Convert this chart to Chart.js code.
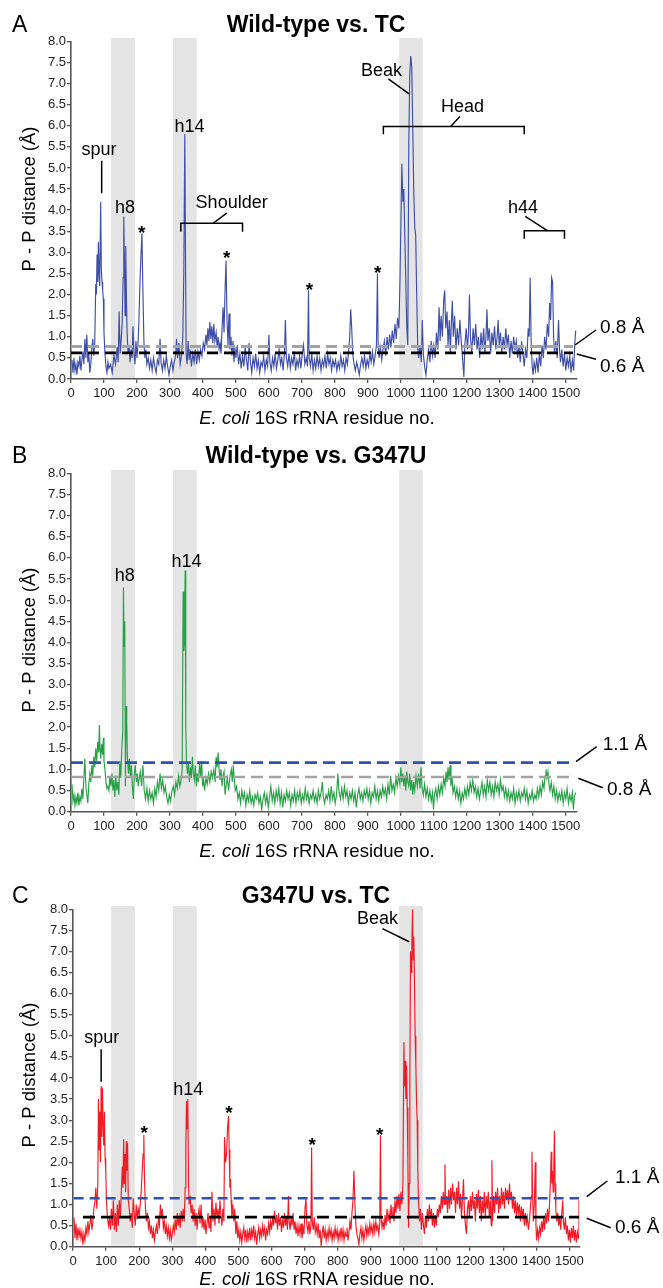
<!DOCTYPE html>
<html>
<head>
<meta charset="utf-8">
<script src="https://cdn.jsdelivr.net/npm/chart.js@4.4.1/dist/chart.umd.min.js"></script>
<style>
  html, body { margin: 0; padding: 0; background: #fff; }
  #page { position: relative; width: 663px; height: 1288px; overflow: hidden; }
  .panel { position: absolute; left: 0; width: 663px; }
</style>
</head>
<body>
<div id="page">
  <div class="panel" style="top:0;height:440px"><canvas id="chartA"></canvas></div>
  <div class="panel" style="top:420px;height:445px"><canvas id="chartB"></canvas></div>
  <div class="panel" style="top:850px;height:438px"><canvas id="chartC"></canvas></div>
</div>
<script>
// Tick values
const yTicksStep = 0.5;
const xTicksStep = 100;
const lastResidueTick = 1500;

// Shaded regions (residue ranges)
const bandsAB = [[121, 194], [309, 381], [995, 1066]];
const bandsC = [[115, 187], [302, 374], [985, 1057]];

// P - P distance per residue: [residue, distance in Å]
const wtVsTc = [
  [3,0.45],[6,0.15],[9,0.5],[12,0.2],[15,0.35],[18,0.1],[21,0.4],[24,0.3],[27,0.55],[30,0.2],[33,0.45],[36,0.65],[39,0.35],[42,0.95],[45,0.5],[48,1.05],[51,0.4],[54,0.6],[57,0.15],[60,0.35],[63,0.7],[66,0.95],[69,0.55],[72,0.85],[75,2.25],[77,2.0],[79,2.95],[81,2.3],[83,3.25],[85,2.5],[87,2.2],[90,4.2],[92,2.6],[94,2.3],[96,2.1],[98,1.9],[100,1.1],[103,0.6],[106,0.3],[109,0.15],[112,0.4],
  [115,0.25],[120,0.35],[125,0.15],[130,0.55],[135,0.35],[140,0.75],[143,0.4],[146,1.6],[149,0.6],[152,0.9],[155,1.3],[158,2.4],[160,3.85],[162,2.8],[164,1.5],[166,3.15],[168,2.0],[170,1.1],[173,0.6],[176,0.8],[179,0.4],[182,0.7],[185,0.5],[188,1.25],[191,0.6],[194,0.35],[197,0.9],[200,0.5],[203,0.8],[206,1.4],[209,2.3],[212,2.9],[215,3.45],[218,2.1],[221,0.9],[224,0.5],[227,0.7],[230,0.35],[234,0.5],[238,0.25],[242,0.45],[246,0.2],[250,0.5],[254,0.3],[258,0.15],[262,0.45],[266,0.35],[270,0.95],[273,0.4],[277,0.2],[281,0.45],[285,0.25],[289,0.55],[293,0.3],[297,0.1],[301,0.3],[305,0.45],[309,0.2],[313,0.4],[317,0.55],[320,0.95],[323,0.5],[327,0.85],[331,0.35],[335,0.55],[339,1.0],[342,2.5],[345,5.8],[347,3.2],[349,0.6],[352,0.35],[355,0.9],[358,0.45],[361,0.7],[365,0.3],[369,0.6],[373,0.4],[377,0.7],[381,0.35],[385,0.65],[389,0.45],[393,0.7],[397,0.55],[401,0.85],[405,0.7],[409,1.05],[412,0.8],[415,1.2],[418,0.9],[421,1.35],[424,0.95],[427,1.25],[430,0.85],[433,1.3],[436,0.9],[440,1.1],[443,0.75],[446,1.0],[449,0.7],[452,0.85],[455,0.6],[458,1.2],[461,1.7],[464,1.1],[467,2.1],[470,2.8],[473,1.4],[476,0.8],[479,1.55],[482,0.7],[485,1.0],[488,0.55],[491,0.9],[494,0.4],[497,0.75],[500,0.5],
  [504,0.8],[508,0.35],[512,0.6],[516,0.25],[520,0.55],[524,0.3],[528,0.75],[532,0.45],[536,0.2],[540,0.85],[544,0.4],[548,0.15],[552,0.5],[556,0.3],[560,0.6],[564,0.25],[568,0.45],[572,0.15],[576,0.4],[580,0.3],[584,0.55],[588,0.2],[592,0.45],[596,0.3],[600,1.05],[603,0.4],[607,0.2],[611,0.5],[615,0.3],[619,0.6],[623,0.25],[627,0.45],[631,0.7],[635,0.35],[639,0.5],[643,0.2],[647,0.6],[650,1.4],[653,0.5],[657,0.3],[661,0.6],[665,0.25],[669,0.5],[673,0.35],[677,0.65],[681,0.2],[685,0.45],[689,0.3],[693,0.55],[697,0.25],[701,0.6],[705,0.8],[709,0.35],[713,0.5],[717,0.3],[720,2.1],[722,0.5],[726,0.3],[730,0.6],[734,0.2],[738,0.45],[742,0.25],[746,0.55],[750,0.3],[754,0.5],[758,0.2],[762,0.45],[766,0.3],[770,0.55],[774,0.25],[778,0.6],[782,0.35],[786,0.5],[790,0.2],[794,0.45],[798,0.3],
  [802,0.45],[806,0.2],[810,0.4],[814,0.25],[818,0.55],[822,0.3],[826,0.45],[830,0.2],[834,0.5],[838,0.35],[842,0.7],[845,1.0],[848,1.65],[851,1.2],[854,0.6],[858,0.35],[862,0.2],[866,0.4],[870,0.25],[874,0.1],[878,0.35],[882,0.5],[886,0.3],[890,0.55],[894,0.25],[898,0.45],[902,0.3],[906,0.6],[910,0.4],[914,0.65],[918,0.35],[922,0.55],[926,0.8],[929,2.5],[931,0.9],[934,0.5],[938,0.75],[942,0.45],[946,0.7],[950,0.9],[954,0.55],[958,1.0],[962,0.7],[966,1.05],[970,0.75],[974,1.15],[978,0.85],[982,1.3],[986,0.95],[990,1.45],[994,1.2],[997,2.2],[1000,3.6],[1003,5.1],[1006,4.2],[1009,4.5],[1012,3.4],[1015,2.3],[1018,1.2],[1021,0.8],[1024,5.5],[1027,7.2],[1030,7.65],[1033,7.4],[1036,6.0],[1039,4.5],[1042,3.6],[1045,3.4],[1048,2.0],[1051,0.8],[1054,0.5],[1058,0.8],[1062,0.4],[1065,1.4],[1068,0.6],[1072,0.3],[1076,0.1],[1080,0.45],[1084,0.7],[1088,0.4],[1092,0.9],[1096,0.55],[1100,0.8],
  [1104,0.5],[1108,1.1],[1112,0.7],[1116,1.7],[1119,0.9],[1122,1.5],[1126,1.0],[1130,1.9],[1133,2.1],[1136,1.2],[1140,1.6],[1143,0.8],[1147,1.4],[1150,0.6],[1153,1.3],[1156,1.85],[1159,1.0],[1163,1.5],[1167,0.7],[1171,1.2],[1175,0.8],[1179,1.4],[1183,0.9],[1187,0.5],[1191,0.05],[1194,0.8],[1198,1.2],[1202,0.7],[1205,1.1],[1208,2.0],[1211,1.0],[1215,0.6],[1219,1.2],[1223,0.8],[1227,1.3],[1231,0.7],[1235,1.0],[1239,0.5],[1243,1.1],[1247,0.7],[1251,1.2],[1255,0.6],[1258,1.0],[1261,1.65],[1264,0.9],[1268,1.2],[1272,0.6],[1276,1.1],[1280,0.8],[1284,1.25],[1288,0.7],[1292,1.0],[1295,1.4],[1298,0.8],[1302,1.1],[1306,0.6],[1310,1.0],[1314,0.7],[1318,1.2],[1322,0.8],[1326,1.05],[1330,0.5],[1334,0.9],[1338,0.6],[1342,1.0],[1346,0.7],[1350,0.9],[1354,0.5],[1358,0.8],[1362,0.4],[1366,0.9],[1370,0.6],[1374,0.3],[1378,0.7],[1382,0.5],[1386,1.2],[1389,1.0],[1392,2.4],[1395,0.9],[1398,0.3],[1401,0.1],[1404,0.4],[1408,0.2],[1412,0.5],[1416,0.15],[1420,0.6],[1424,0.3],[1428,0.8],[1432,0.5],[1436,1.0],[1440,0.7],[1444,1.3],[1448,1.0],[1451,1.8],[1454,1.4],[1457,2.4],[1460,2.3],[1463,1.0],[1466,0.6],[1470,0.9],[1474,0.5],[1478,1.4],[1481,0.7],[1484,0.4],[1488,0.7],[1492,0.3],[1496,0.6],[1500,0.2],[1504,0.5],[1508,0.3],[1512,0.55],[1516,0.15],[1520,0.45],[1524,0.2],[1527,0.8],[1530,1.15]
];

const wtVsG347U = [
  [3,0.65],[6,0.25],[9,0.4],[12,0.15],[15,0.35],[18,0.2],[21,0.45],[24,0.15],[27,0.35],[30,0.25],[33,0.55],[36,0.3],[39,0.8],[42,1.25],[45,0.6],[48,0.4],[51,0.2],[54,0.65],[57,0.9],[60,0.7],[63,1.1],[66,0.85],[69,1.3],[72,1.05],[75,1.5],[78,1.2],[81,1.65],[84,1.4],[86,2.05],[88,1.5],[90,1.25],[93,1.6],[96,1.35],[98,1.75],[100,1.2],[103,1.0],[106,0.7],[109,0.55],[112,0.6],[115,0.5],[118,0.85],[121,0.6],[124,0.9],[127,0.5],[130,0.75],[133,0.35],[136,0.85],[139,0.5],[142,0.7],[145,0.4],[148,1.2],[151,0.8],[154,1.5],[157,1.9],[159,5.3],[161,3.9],[163,4.5],[165,0.6],[167,2.5],[169,2.1],[171,1.3],[174,0.9],[177,1.25],[180,0.8],[183,1.1],[186,0.6],[189,0.3],[192,0.9],[195,1.1],[198,0.7],
  [201,0.9],[204,0.6],[207,0.8],[210,0.95],[214,0.6],[218,1.1],[222,0.5],[226,0.3],[230,0.55],[234,0.25],[238,0.5],[242,0.3],[246,0.45],[250,0.2],[254,0.55],[258,0.35],[262,0.7],[266,0.5],[270,0.9],[274,0.55],[278,0.75],[282,0.45],[286,0.6],[290,0.35],[294,0.2],[298,0.4],[302,0.25],[306,0.5],[310,0.6],[314,0.4],[318,0.7],[322,0.55],[326,0.85],[330,0.6],[334,0.75],[337,1.0],[340,5.2],[342,3.8],[344,4.0],[346,5.7],[348,2.0],[350,1.2],[353,0.9],[356,1.15],[359,0.7],[362,1.05],[365,0.8],[368,1.3],[371,0.9],[374,0.75],[377,1.1],[380,0.6],[383,0.9],[386,0.7],[390,1.15],[393,0.8],[396,1.2],[399,0.6],
  [402,0.75],[405,0.5],[409,0.8],[413,0.65],[417,0.9],[421,0.7],[425,0.95],[429,0.8],[433,1.0],[437,0.7],[440,1.3],[443,1.05],[446,1.4],[449,1.0],[452,0.75],[455,1.0],[458,0.6],[461,0.85],[464,0.95],[467,0.4],[470,0.6],[474,0.8],[478,0.5],[482,0.85],[486,1.0],[489,0.7],[492,1.1],[495,0.8],[498,0.5],[502,0.6],[506,0.3],[510,0.45],[514,0.2],[518,0.5],[522,0.3],[526,0.45],[530,0.15],[534,0.4],[538,0.25],[542,0.5],[546,0.2],[550,0.35],[554,0.15],[558,0.4],[562,0.3],[566,0.45],[570,0.2],[574,0.35],[578,0.05],[582,0.3],[586,0.45],[590,0.2],[594,0.4],[598,0.1],
  [602,0.35],[606,0.6],[610,0.25],[614,0.45],[618,0.2],[622,0.5],[626,0.3],[630,0.55],[634,0.2],[638,0.45],[642,0.1],[646,0.4],[650,0.25],[654,0.5],[658,0.3],[662,0.45],[666,0.15],[670,0.4],[674,0.25],[678,0.5],[682,0.2],[686,0.45],[690,0.3],[694,0.5],[698,0.2],[702,0.4],[706,0.25],[710,0.55],[714,0.3],[718,0.45],[722,0.2],[726,0.4],[730,0.3],[734,0.5],[738,0.25],[742,0.4],[746,0.2],[750,0.5],[754,0.3],[758,0.45],[762,0.7],[765,0.35],[769,0.2],[773,0.4],[777,0.3],[781,0.5],[785,0.25],[789,0.6],[793,0.3],[797,0.45],
  [801,0.2],[805,0.4],[809,0.9],[813,0.45],[817,0.3],[821,0.55],[825,0.3],[829,0.6],[833,0.35],[837,0.5],[841,0.2],[845,0.45],[849,0.3],[853,0.5],[857,0.25],[861,0.45],[865,0.1],[869,0.4],[873,0.55],[877,0.3],[881,0.45],[885,0.25],[889,0.5],[893,0.35],[897,0.55],[901,0.3],[905,0.5],[909,0.2],[913,0.45],[917,0.35],[921,0.6],[925,0.3],[929,0.5],[933,0.25],[937,0.5],[941,0.35],[945,0.6],[949,0.4],[953,0.55],[957,0.3],[961,0.65],[965,0.4],[969,0.85],[973,0.5],[977,0.65],[981,0.45],[985,0.8],[989,0.6],[993,0.85],[997,0.65],
  [1000,1.05],[1003,0.7],[1006,0.9],[1009,0.6],[1012,0.85],[1015,0.5],[1018,0.95],[1021,0.7],[1024,0.6],[1027,0.9],[1030,0.5],[1033,0.75],[1036,0.4],[1039,0.7],[1042,0.5],[1046,0.85],[1050,0.6],[1054,0.9],[1058,0.55],[1061,1.05],[1064,0.6],[1068,0.4],[1072,0.65],[1076,0.35],[1080,0.55],[1084,0.3],[1088,0.5],[1092,0.25],[1096,0.45],[1099,0.05],[1102,0.4],[1106,0.55],[1110,0.3],[1114,0.6],[1118,0.4],[1122,0.65],[1126,0.45],[1130,0.8],[1134,0.6],[1137,0.95],[1140,0.7],[1143,1.05],[1146,0.75],[1149,1.1],[1152,0.6],[1155,0.85],[1158,0.45],[1162,0.6],[1166,0.35],[1170,0.55],[1174,0.3],[1178,0.5],[1182,0.2],[1186,0.45],[1190,0.3],[1194,0.55],[1198,0.35],
  [1202,0.6],[1206,0.4],[1210,0.7],[1214,0.5],[1218,0.75],[1222,0.45],[1226,0.6],[1230,0.35],[1234,0.55],[1238,0.3],[1242,0.5],[1246,0.7],[1250,0.4],[1254,0.6],[1258,0.35],[1262,0.75],[1266,0.5],[1270,0.7],[1274,0.4],[1278,0.6],[1282,0.35],[1286,0.7],[1290,0.5],[1294,0.65],[1298,0.4],[1302,0.75],[1306,0.5],[1310,0.6],[1314,0.35],[1318,0.55],[1322,0.3],[1326,0.5],[1330,0.25],[1334,0.45],[1338,0.3],[1342,0.55],[1346,0.2],[1350,0.45],[1354,0.3],[1358,0.5],[1362,0.25],[1366,0.45],[1370,0.35],[1374,0.55],[1378,0.3],[1382,0.5],[1386,0.2],[1390,0.4],[1394,0.3],[1398,0.5],
  [1402,0.25],[1406,0.4],[1410,0.3],[1414,0.55],[1418,0.35],[1422,0.6],[1426,0.4],[1430,0.7],[1434,0.55],[1437,0.85],[1440,1.0],[1443,0.8],[1446,0.95],[1449,0.65],[1452,0.5],[1456,0.7],[1460,0.4],[1464,0.6],[1468,0.3],[1472,0.5],[1476,0.25],[1480,0.45],[1484,0.3],[1488,0.5],[1492,0.2],[1496,0.45],[1500,0.3],[1504,0.55],[1508,0.2],[1512,0.4],[1516,0.25],[1520,0.45],[1523,0.05],[1526,0.35],[1530,0.45]
];

const g347uVsTc = [
  [3,0.7],[6,0.2],[9,0.55],[12,0.15],[15,0.45],[18,0.25],[21,0.4],[24,0.2],[27,0.35],[30,0.05],[33,0.3],[36,0.15],[39,0.45],[42,0.3],[45,0.6],[48,0.35],[51,0.55],[54,0.75],[57,0.4],[60,0.6],[63,0.9],[66,1.05],[69,1.4],[72,0.9],[75,1.5],[77,3.5],[79,2.3],[81,3.2],[83,2.0],[85,3.8],[87,2.6],[89,3.75],[91,2.9],[93,2.4],[95,3.2],[97,2.1],[99,1.8],[101,1.1],[104,0.7],[107,0.5],[110,0.65],[113,0.4],[116,0.9],[119,0.5],[122,1.1],[125,0.4],[128,0.8],[131,0.35],[134,1.0],[137,0.5],[140,1.1],[143,0.7],[146,1.3],[149,1.9],[151,1.4],[153,2.55],[155,1.5],[157,2.2],[159,1.3],[161,2.5],[163,1.8],[165,2.45],[167,1.1],[170,0.9],[173,0.6],[176,0.8],[179,0.45],[182,1.15],[185,0.8],[188,0.5],[191,1.0],[194,0.65],[197,0.9],
  [200,0.75],[203,1.0],[206,1.3],[209,1.8],[212,2.2],[214,2.65],[216,1.6],[219,0.9],[222,0.6],[225,0.8],[228,0.45],[231,0.6],[234,0.3],[237,0.5],[240,0.2],[243,0.4],[246,0.15],[249,0.35],[252,0.5],[255,0.3],[258,0.65],[261,0.5],[264,1.0],[267,0.7],[270,0.9],[273,0.45],[276,0.6],[279,0.3],[282,0.5],[285,0.25],[288,0.45],[291,0.2],[294,0.4],[297,0.15],[300,0.3],[303,0.5],[306,0.35],[309,0.65],[312,0.4],[315,0.8],[318,0.5],[321,0.7],[324,0.45],[327,0.85],[330,0.6],[333,0.9],[336,0.6],[339,1.4],[341,2.4],[343,3.45],[345,2.8],[347,3.5],[349,1.5],[351,1.0],[354,1.2],[357,0.8],[360,1.0],[363,0.6],[366,0.9],[369,0.5],[372,0.8],[375,0.4],[378,0.75],[381,0.9],[384,0.55],[387,1.0],[390,0.45],[393,0.7],[396,0.4],[399,0.65],
  [402,0.3],[405,0.55],[408,0.8],[411,0.45],[414,0.7],[417,0.35],[420,1.3],[423,0.6],[426,0.9],[429,0.5],[432,1.05],[435,0.7],[438,0.9],[441,0.55],[444,1.1],[447,0.75],[450,0.5],[453,0.9],[456,0.6],[458,2.6],[461,2.0],[464,2.2],[467,2.8],[470,3.1],[472,2.3],[474,1.4],[476,1.6],[478,1.1],[480,0.7],[483,1.0],[486,0.6],[489,0.9],[492,0.3],[495,0.6],[498,0.2],[501,0.4],[504,0.15],[507,0.35],[510,0.1],[513,0.3],[516,0.45],[519,0.2],[522,0.4],[525,0.1],[528,0.35],[531,0.2],[534,0.45],[537,0.15],[540,0.4],[543,0.25],[546,0.5],[549,0.2],[552,0.35],[555,0.05],[558,0.3],[561,0.45],[564,0.2],[567,0.4],[570,0.25],[573,0.5],[576,0.3],[579,0.45],[582,0.15],[585,0.4],[588,0.3],[591,0.55],[594,0.35],[597,0.6],
  [600,0.4],[603,0.7],[606,0.5],[609,0.85],[612,0.55],[615,0.75],[618,0.4],[621,0.8],[624,0.5],[627,0.7],[630,0.35],[633,0.65],[636,0.45],[639,0.8],[642,0.5],[645,0.7],[648,0.4],[651,1.2],[653,0.6],[656,0.4],[659,0.7],[662,0.5],[665,0.8],[668,0.4],[671,0.6],[674,0.3],[677,0.5],[680,0.25],[683,0.5],[686,0.3],[689,0.55],[692,0.2],[695,0.45],[698,0.3],[701,0.9],[704,1.15],[707,0.5],[710,0.35],[713,0.6],[716,0.3],[719,0.5],[721,2.35],[723,0.6],[726,0.4],[729,0.7],[732,0.35],[735,0.5],[738,0.3],[741,0.55],[744,0.2],[747,0.4],[750,0.0],[753,0.3],[756,0.5],[759,0.2],[762,0.4],[765,0.15],[768,0.35],[771,0.2],[774,0.45],[777,0.25],[780,0.4],[783,0.15],[786,0.35],[789,0.2],[792,0.45],[795,0.25],[798,0.4],
  [801,0.15],[804,0.35],[807,0.2],[810,0.45],[813,0.2],[816,0.4],[819,0.15],[822,0.35],[825,0.25],[828,0.45],[831,0.15],[834,0.35],[837,0.6],[840,0.4],[843,0.8],[846,1.1],[849,1.8],[852,1.0],[855,0.5],[858,0.3],[861,0.2],[864,0.05],[867,0.3],[870,0.45],[873,0.2],[876,0.4],[879,0.15],[882,0.35],[885,0.5],[888,0.25],[891,0.45],[894,0.3],[897,0.55],[900,0.35],[903,0.5],[906,0.3],[909,0.55],[912,0.35],[915,0.6],[918,0.4],[921,0.5],[924,0.3],[927,0.55],[929,2.65],[931,0.7],[934,0.45],[937,0.6],[940,0.4],[943,0.75],[946,0.5],[949,0.9],[952,0.6],[955,0.8],[958,0.55],[961,1.0],[964,0.7],[967,0.95],[970,0.6],[973,1.1],[976,0.8],[979,1.2],[982,0.9],[985,1.25],[988,0.85],[991,1.3],[994,1.0],[997,1.5],
  [1000,4.85],[1002,3.8],[1004,4.4],[1006,3.5],[1008,4.3],[1010,3.3],[1012,2.0],[1014,0.45],[1016,1.5],[1018,4.0],[1020,7.0],[1022,6.5],[1024,7.2],[1026,8.0],[1028,6.8],[1030,7.35],[1032,6.2],[1034,5.0],[1036,4.3],[1038,3.5],[1040,3.0],[1042,1.8],[1044,1.1],[1047,0.6],[1050,0.9],[1053,0.4],[1056,0.8],[1059,0.5],[1062,0.3],[1065,0.7],[1068,0.45],[1071,0.9],[1074,0.6],[1077,1.0],[1080,0.65],[1083,0.9],[1086,0.5],[1089,0.8],[1092,0.45],[1095,0.75],[1098,0.5],
  [1101,0.9],[1104,0.7],[1107,1.0],[1110,0.8],[1113,1.2],[1116,0.9],[1119,1.3],[1122,1.0],[1124,1.95],[1126,1.0],[1129,1.2],[1132,0.8],[1135,1.35],[1138,0.9],[1141,1.4],[1144,1.0],[1147,1.5],[1150,1.1],[1153,1.3],[1156,0.8],[1159,1.4],[1162,1.0],[1165,1.55],[1168,0.9],[1171,1.25],[1174,0.7],[1177,1.1],[1180,1.6],[1183,0.8],[1186,0.5],[1189,0.3],[1192,0.9],[1195,1.1],[1198,0.7],
  [1201,1.2],[1204,0.85],[1207,1.3],[1210,0.9],[1213,1.1],[1216,0.6],[1219,1.25],[1222,0.9],[1225,1.35],[1228,0.8],[1231,1.2],[1234,0.6],[1237,1.1],[1240,0.8],[1243,1.3],[1246,0.7],[1249,1.2],[1252,0.9],[1255,1.3],[1258,0.7],[1261,1.1],[1264,0.5],[1266,2.05],[1268,0.6],[1271,1.2],[1274,0.8],[1277,1.3],[1280,1.0],[1283,1.4],[1286,0.8],[1289,1.2],[1292,0.9],[1295,1.4],[1298,1.0],
  [1301,1.3],[1304,0.9],[1307,1.4],[1310,1.1],[1313,1.35],[1316,1.0],[1319,1.5],[1322,1.1],[1325,1.3],[1328,0.9],[1331,1.2],[1334,0.8],[1337,1.1],[1340,0.7],[1343,1.05],[1346,0.8],[1349,1.0],[1352,0.6],[1355,0.95],[1358,0.7],[1361,0.9],[1364,0.5],[1367,0.8],[1370,0.55],[1373,0.7],[1376,0.4],[1379,0.6],[1382,0.9],[1385,1.2],[1387,2.25],[1389,1.2],[1391,0.6],[1394,1.0],[1397,2.0],[1399,0.5],
  [1401,0.15],[1404,0.4],[1407,0.2],[1410,0.45],[1413,0.3],[1416,0.6],[1419,0.35],[1422,0.7],[1425,0.4],[1428,0.8],[1431,0.55],[1434,0.9],[1437,0.6],[1440,1.0],[1443,1.6],[1445,2.25],[1447,1.5],[1449,1.8],[1451,1.3],[1453,2.0],[1455,2.75],[1457,1.5],[1459,0.9],[1462,0.6],[1465,0.8],[1468,0.5],[1471,0.7],[1474,0.4],[1477,0.8],[1480,1.1],[1482,0.6],[1485,0.4],[1488,0.7],[1491,0.3],[1494,0.5],[1497,0.15],[1500,0.4],[1503,0.1],[1506,0.45],[1509,0.2],[1512,0.5],[1515,0.15],[1518,0.4],[1521,0.1],[1524,0.35],[1527,0.2],[1529,1.1]
];

// Threshold lines: [value, from residue, to residue]
const thresholdsA = { gray: [0.77, 0, 1522], black: [0.62, 0, 1522] };
const thresholdsB = { blue: [1.16, 0, 1522], gray: [0.82, 0, 1522] };
const thresholdsC = { blue: [1.15, 2, 1530], black: [0.70, 30, 1530] };

const FONT = "'Liberation Sans', Arial, Helvetica, sans-serif";
const BAND_TOP = 8.08;
const X_AXIS_H = 30;

function refLine(t, color, dash, width) {
  return {
    data: [{ x: t[1], y: t[0] }, { x: t[2], y: t[0] }],
    borderColor: color,
    borderWidth: width,
    borderDash: dash,
    pointRadius: 0,
    fill: false
  };
}

function makePanel(cfg) {
  const decor = {
    id: 'decor',
    beforeDraw(chart) {
      const { ctx } = chart;
      const xs = chart.scales.x, ys = chart.scales.y;
      ctx.save();
      ctx.fillStyle = '#e4e4e4';
      cfg.bands.forEach(([a, b]) => {
        const x1 = xs.getPixelForValue(a), x2 = xs.getPixelForValue(b);
        const yTop = ys.getPixelForValue(BAND_TOP), yBot = ys.getPixelForValue(0) - 1;
        ctx.fillRect(x1, yTop, x2 - x1, yBot - yTop);
      });
      ctx.restore();
    },
    afterDraw(chart) {
      const { ctx } = chart;
      const xs = chart.scales.x, ys = chart.scales.y;
      const px = r => xs.getPixelForValue(r);
      const py = v => ys.getPixelForValue(v);
      ctx.save();
      ctx.fillStyle = '#000';
      ctx.strokeStyle = '#000';

      // panel letter and title
      ctx.textBaseline = 'alphabetic';
      ctx.textAlign = 'left';
      ctx.font = `23px ${FONT}`;
      ctx.fillText(cfg.letter, 12, cfg.titleBase);
      ctx.textAlign = 'center';
      ctx.font = `bold 23px ${FONT}`;
      ctx.fillText(cfg.title, 316, cfg.titleBase);

      // y axis title
      ctx.save();
      ctx.translate(34.5, cfg.yTitleCenter);
      ctx.rotate(-Math.PI / 2);
      ctx.font = `18.5px ${FONT}`;
      ctx.textAlign = 'center';
      ctx.fillText('P - P distance (Å)', 0, 0);
      ctx.restore();

      // x axis title, italic species name
      const ital = 'E. coli', rest = ' 16S rRNA residue no.';
      ctx.font = `italic 18.5px ${FONT}`;
      const w1 = ctx.measureText(ital).width;
      ctx.font = `18.5px ${FONT}`;
      const w2 = ctx.measureText(rest).width;
      const x0 = 317 - (w1 + w2) / 2;
      ctx.textAlign = 'left';
      ctx.font = `italic 18.5px ${FONT}`;
      ctx.fillText(ital, x0, cfg.xTitleBase);
      ctx.font = `18.5px ${FONT}`;
      ctx.fillText(rest, x0 + w1, cfg.xTitleBase);

      // in-plot labels
      ctx.textAlign = 'center';
      ctx.textBaseline = 'middle';
      cfg.labels.forEach(l => {
        if (l.text === '*') {
          ctx.font = `bold 19px ${FONT}`;
          ctx.textBaseline = 'alphabetic';
          ctx.fillText('*', px(l.r), py(l.v) + 11);
          ctx.textBaseline = 'middle';
        } else {
          ctx.font = `18px ${FONT}`;
          ctx.fillText(l.text, px(l.r), py(l.v));
        }
      });

      // leader lines and brackets
      ctx.lineWidth = 1.5;
      cfg.leaders.forEach(([r1, v1, r2, v2]) => {
        ctx.beginPath();
        ctx.moveTo(px(r1), py(v1));
        ctx.lineTo(px(r2), py(v2));
        ctx.stroke();
      });
      cfg.brackets.forEach(([r1, r2, v, drop]) => {
        ctx.beginPath();
        ctx.moveTo(px(r1), py(drop));
        ctx.lineTo(px(r1), py(v));
        ctx.lineTo(px(r2), py(v));
        ctx.lineTo(px(r2), py(drop));
        ctx.stroke();
      });

      // threshold labels to the right of the plot
      ctx.font = `19px ${FONT}`;
      ctx.textAlign = 'left';
      ctx.textBaseline = 'alphabetic';
      cfg.sideLabels.forEach(s => {
        ctx.fillText(s.text, s.x, s.base);
        ctx.beginPath();
        ctx.moveTo(s.line[0], s.line[1]);
        ctx.lineTo(s.line[2], s.line[3]);
        ctx.stroke();
      });
      ctx.restore();
    }
  };

  const axisGrid = { drawOnChartArea: false, drawTicks: true, tickLength: 4, color: '#555', lineWidth: 1.3 };
  const axisBorder = { display: true, color: '#555', width: 1.6 };

  return new Chart(document.getElementById(cfg.canvasId), {
    type: 'line',
    data: { datasets: cfg.datasets },
    options: {
      responsive: true,
      maintainAspectRatio: false,
      animation: false,
      layout: {
        padding: {
          left: 0,
          right: 663 - cfg.area.right,
          top: cfg.area.top,
          bottom: cfg.height - cfg.area.bottom - X_AXIS_H
        }
      },
      plugins: { legend: { display: false }, tooltip: { enabled: false } },
      elements: { point: { radius: 0 }, line: { tension: 0 } },
      scales: {
        x: {
          type: 'linear',
          min: 0,
          max: cfg.xMax,
          afterFit: s => { s.height = X_AXIS_H; },
          ticks: {
            stepSize: xTicksStep,
            includeBounds: false,
            autoSkip: false,
            maxRotation: 0,
            padding: 3,
            color: '#222',
            font: { family: FONT, size: 13 },
            callback: v => (v <= lastResidueTick ? String(v) : '')
          },
          grid: axisGrid,
          border: axisBorder
        },
        y: {
          min: 0,
          max: 8,
          afterFit: s => { s.width = cfg.area.left; },
          ticks: {
            stepSize: yTicksStep,
            padding: 1,
            color: '#222',
            font: { family: FONT, size: 13 },
            callback: v => v.toFixed(1)
          },
          grid: axisGrid,
          border: axisBorder
        }
      }
    },
    plugins: [decor]
  });
}

const toXY = arr => arr.map(([r, d]) => ({ x: r, y: d }));

// Panel A
makePanel({
  canvasId: 'chartA', height: 440,
  area: { left: 71, right: 577, top: 41.3, bottom: 379 },
  xMax: 1534,
  letter: 'A', title: 'Wild-type vs. TC', titleBase: 32,
  yTitleCenter: 199, xTitleBase: 424,
  bands: bandsAB,
  datasets: [
    refLine(thresholdsA.black, '#000', [11, 6], 2.8),
    refLine(thresholdsA.gray, '#a3a3a3', [11, 6], 2.8),
    { data: toXY(wtVsTc), borderColor: '#3f4ea6', borderWidth: 1.15, pointRadius: 0, fill: false }
  ],
  labels: [
    { text: 'spur', r: 85, v: 5.43 }, { text: 'h8', r: 164, v: 4.05 }, { text: '*', r: 214, v: 3.58 },
    { text: 'h14', r: 359, v: 5.96 }, { text: 'Shoulder', r: 487, v: 4.16 }, { text: '*', r: 472, v: 2.98 },
    { text: '*', r: 723, v: 2.23 }, { text: '*', r: 930, v: 2.64 }, { text: 'Beak', r: 941, v: 7.3 },
    { text: 'Head', r: 1187, v: 6.45 }, { text: 'h44', r: 1370, v: 4.04 }
  ],
  leaders: [
    [93, 5.17, 93, 4.4], [431, 3.69, 472, 3.93], [962, 7.11, 1026, 6.75],
    [1179, 6.22, 1151, 5.98], [1377, 3.85, 1445, 3.51]
  ],
  brackets: [[333, 520, 3.69, 3.49], [947, 1374, 5.98, 5.8], [1374, 1496, 3.51, 3.32]],
  sideLabels: [
    { text: '0.8 Å', x: 600, base: 333, line: [575, 345, 596, 330] },
    { text: '0.6 Å', x: 600, base: 372, line: [576.7, 354, 596, 359.3] }
  ]
});

// Panel B
makePanel({
  canvasId: 'chartB', height: 445,
  area: { left: 71, right: 577, top: 53.3, bottom: 391.7 },
  xMax: 1534,
  letter: 'B', title: 'Wild-type vs. G347U', titleBase: 43.3,
  yTitleCenter: 220, xTitleBase: 436.7,
  bands: bandsAB,
  datasets: [
    refLine(thresholdsB.blue, '#2f52ad', [12, 6], 2.6),
    refLine(thresholdsB.gray, '#a3a3a3', [12, 6], 2.6),
    { data: toXY(wtVsG347U), borderColor: '#27a046', borderWidth: 1.15, pointRadius: 0, fill: false }
  ],
  labels: [{ text: 'h8', r: 163, v: 5.56 }, { text: 'h14', r: 350, v: 5.91 }],
  leaders: [],
  brackets: [],
  sideLabels: [
    { text: '1.1 Å', x: 602.7, base: 330, line: [576, 341.7, 596.7, 326.7] },
    { text: '0.8 Å', x: 607, base: 375, line: [578.3, 358.3, 602.7, 367.7] }
  ]
});

// Panel C
makePanel({
  canvasId: 'chartC', height: 438,
  area: { left: 73, right: 579.3, top: 59.3, bottom: 396.7 },
  xMax: 1530,
  letter: 'C', title: 'G347U vs. TC', titleBase: 53,
  yTitleCenter: 225, xTitleBase: 435,
  bands: bandsC,
  datasets: [
    refLine(thresholdsC.black, '#000', [12, 6], 2.8),
    refLine(thresholdsC.blue, '#2f52ad', [10, 6], 2.4),
    { data: toXY(g347uVsTc), borderColor: '#ee1c25', borderWidth: 1.15, pointRadius: 0, fill: false }
  ],
  labels: [
    { text: 'spur', r: 87, v: 4.94 }, { text: 'h14', r: 348, v: 3.71 }, { text: '*', r: 215, v: 2.82 },
    { text: '*', r: 471, v: 3.29 }, { text: '*', r: 723, v: 2.54 }, { text: '*', r: 927, v: 2.77 },
    { text: 'Beak', r: 920, v: 7.77 }
  ],
  leaders: [[85, 4.68, 85, 3.91], [935, 7.54, 1016, 7.23]],
  brackets: [],
  sideLabels: [
    { text: '1.1 Å', x: 615, base: 333, line: [586.7, 346.7, 607.3, 331] },
    { text: '0.6 Å', x: 615, base: 383, line: [586.7, 368.3, 610.7, 377.7] }
  ]
});
</script>
</body>
</html>
